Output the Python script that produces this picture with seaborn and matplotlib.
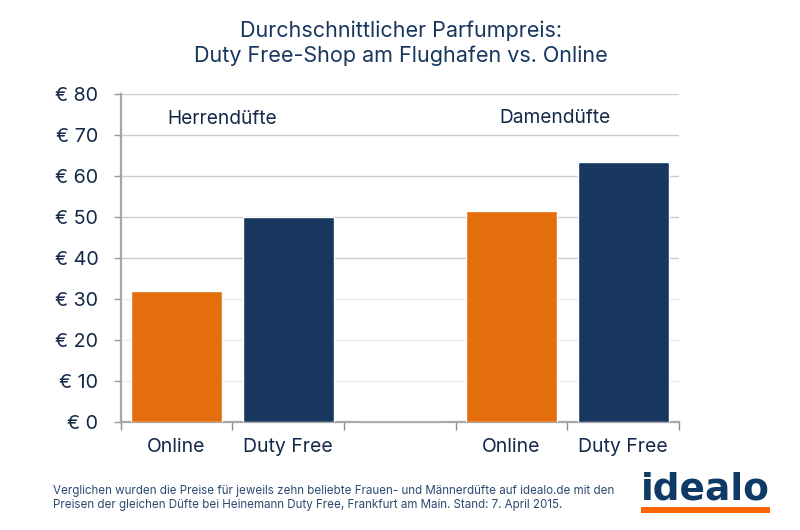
import numpy as np
import pandas as pd
import seaborn as sns
import matplotlib.pyplot as plt
from matplotlib.patches import Rectangle

slots = ["h_online", "h_duty", "gap", "d_online", "d_duty"]
tick_labels = ["Online", "Duty Free", "", "Online", "Duty Free"]
prices = [32.0, 50.0, 0.0, 51.5, 63.3]
bar_colors = ["#e46e0c", "#17375e", "#ffffff", "#e46e0c", "#17375e"]
y_ticks = [0, 10, 20, 30, 40, 50, 60, 70, 80]
group_labels = ["Herrendüfte", "Damendüfte"]

navy = "#17375e"
dark_text = "#14294a"

sns.set_theme(style="white")
plt.rcParams["font.family"] = ["Inter", "DejaVu Sans"]

data = pd.DataFrame({"slot": slots, "price": prices})

W, H = 800, 530
fig = plt.figure(figsize=(W / 100, H / 100), dpi=100)
ax = fig.add_axes([120.5 / W, 1 - 422 / H, 558.5 / W, 328 / H])

sns.barplot(data=data, x="slot", y="price", hue="slot", palette=bar_colors,
            legend=False, width=0.815, saturation=1, ax=ax, zorder=3)

ax.set_xlim(-0.5, 4.5)
ax.set_ylim(0, 80)
ax.set_xlabel("")
ax.set_ylabel("")

# gridlines fade out towards the bottom in the original
for v in y_ticks[1:]:
    col = "#ececec" if v <= 30 else "#cccccc"
    ax.axhline(v, color=col, lw=1, zorder=1)

ax.set_yticks(y_ticks)
ax.set_yticklabels([f"€ {v}" for v in y_ticks], fontsize=14.2, color=dark_text)
ax.set_xticks(np.arange(-0.5, 5, 1))
ax.set_xticklabels([])
ax.tick_params(axis="y", length=5, width=1, color="#999999", left=True, pad=11)
ax.tick_params(axis="x", length=6, width=1, color="#8c8c8c", bottom=True)

for i, lab in enumerate(tick_labels):
    ax.text(i, -6.0, lab, ha="center", va="center", fontsize=14, color=dark_text)

for s in ["top", "right"]:
    ax.spines[s].set_visible(False)
for s in ["left", "bottom"]:
    ax.spines[s].set_color("#a6a6a6")
    ax.spines[s].set_linewidth(1.6)

ax.text(0.41, 74.0, group_labels[0], ha="center", va="center", fontsize=13.8, color=dark_text)
ax.text(3.39, 74.2, group_labels[1], ha="center", va="center", fontsize=13.8, color=dark_text)

fig.text(401 / W, 1 - 31 / H, "Durchschnittlicher Parfumpreis:", ha="center", va="center",
         fontsize=15.5, color=navy)
fig.text(401 / W, 1 - 56 / H, "Duty Free-Shop am Flughafen vs. Online", ha="center", va="center",
         fontsize=15.5, color=navy)

fig.text(53 / W, 1 - 491 / H,
         "Verglichen wurden die Preise für jeweils zehn beliebte Frauen- und Männerdüfte auf idealo.de mit den",
         ha="left", va="center", fontsize=8.35, color="#2c4a72")
fig.text(53 / W, 1 - 505 / H,
         "Preisen der gleichen Düfte bei Heinemann Duty Free, Frankfurt am Main. Stand: 7. April 2015.",
         ha="left", va="center", fontsize=8.35, color="#2c4a72")

# logo
fig.text(705.5 / W, 1 - 500 / H, "idealo", ha="center", va="baseline", fontsize=27,
         fontweight="bold", family="DejaVu Sans", color="#0f3a66")
fig.add_artist(Rectangle((641 / W, 1 - 513 / H), 129 / W, 6 / H, transform=fig.transFigure,
                         color="#ff6600", lw=0))

fig.savefig("out.png", dpi=100)
